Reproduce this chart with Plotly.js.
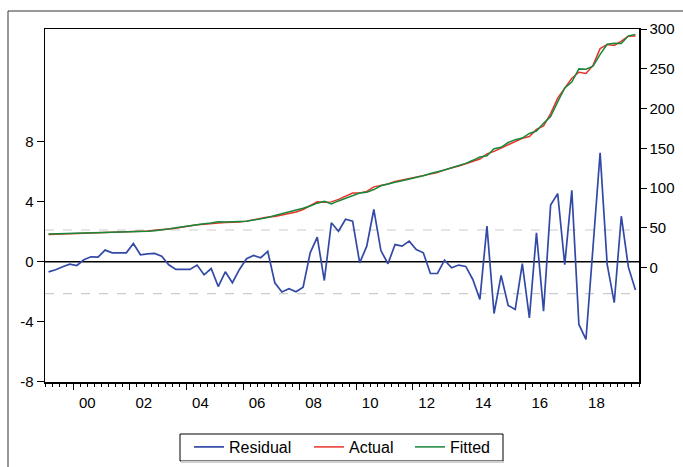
<!DOCTYPE html>
<html>
<head>
<meta charset="utf-8">
<script src="https://cdn.plot.ly/plotly-3.0.1.min.js"></script>
<style>
  html, body { margin: 0; padding: 0; background: #fff; }
  #chart { width: 683px; height: 467px; }
</style>
</head>
<body>
<div id="chart"></div>
<script>
// Quarterly periods 1999Q1 .. 2019Q4
const periods = [
  "1999Q1","1999Q2","1999Q3","1999Q4","2000Q1","2000Q2","2000Q3","2000Q4",
  "2001Q1","2001Q2","2001Q3","2001Q4","2002Q1","2002Q2","2002Q3","2002Q4",
  "2003Q1","2003Q2","2003Q3","2003Q4","2004Q1","2004Q2","2004Q3","2004Q4",
  "2005Q1","2005Q2","2005Q3","2005Q4","2006Q1","2006Q2","2006Q3","2006Q4",
  "2007Q1","2007Q2","2007Q3","2007Q4","2008Q1","2008Q2","2008Q3","2008Q4",
  "2009Q1","2009Q2","2009Q3","2009Q4","2010Q1","2010Q2","2010Q3","2010Q4",
  "2011Q1","2011Q2","2011Q3","2011Q4","2012Q1","2012Q2","2012Q3","2012Q4",
  "2013Q1","2013Q2","2013Q3","2013Q4","2014Q1","2014Q2","2014Q3","2014Q4",
  "2015Q1","2015Q2","2015Q3","2015Q4","2016Q1","2016Q2","2016Q3","2016Q4",
  "2017Q1","2017Q2","2017Q3","2017Q4","2018Q1","2018Q2","2018Q3","2018Q4",
  "2019Q1","2019Q2","2019Q3","2019Q4"
];

const residual = [
  -0.67,-0.53,-0.33,-0.16,-0.25,0.13,0.33,0.31,
  0.78,0.60,0.60,0.60,1.22,0.47,0.53,0.56,
  0.38,-0.20,-0.51,-0.51,-0.51,-0.22,-0.87,-0.45,
  -1.65,-0.67,-1.40,-0.51,0.20,0.42,0.27,0.69,
  -1.40,-2.02,-1.80,-2.00,-1.69,0.60,1.64,-1.25,
  2.60,2.04,2.84,2.71,-0.07,1.04,3.49,0.75,
  -0.13,1.15,1.04,1.38,0.82,0.60,-0.78,-0.78,
  0.11,-0.40,-0.22,-0.31,-1.18,-2.51,2.38,-3.45,
  -0.91,-2.91,-3.18,-0.13,-3.74,1.93,-3.29,3.78,
  4.55,-0.20,4.77,-4.18,-5.18,1.00,7.27,-0.18,
  -2.73,3.04,-0.36,-1.89
];

const actual = [
  41.7,41.9,42.3,42.7,42.9,43.3,43.7,44.0,
  44.4,44.6,44.8,45.1,45.6,45.7,46.3,47.0,
  47.7,48.6,49.7,51.2,52.7,53.9,54.6,55.8,
  56.2,57.0,56.8,57.5,58.6,60.2,61.6,63.8,
  64.3,66.0,68.1,70.0,73.2,78.3,82.8,82.4,
  82.8,86.0,90.4,93.9,94.0,96.0,101.7,103.9,
  105.4,108.6,110.5,112.7,114.4,116.3,117.6,119.6,
  123.1,125.3,127.9,130.8,133.9,136.7,143.2,146.3,
  150.5,154.5,157.9,162.9,165.1,174.0,178.4,193.9,
  213.3,225.9,238.4,245.9,244.4,254.5,275.6,280.9,
  279.6,285.0,291.3,291.6
];

const fitted = [
  42.3,42.5,42.7,42.9,43.1,43.1,43.3,43.6,
  43.6,44.0,44.2,44.5,44.4,45.3,45.7,46.4,
  47.3,48.8,50.3,51.8,53.3,54.1,55.4,56.2,
  57.8,57.6,58.2,58.1,58.4,59.8,61.4,63.2,
  65.7,68.0,69.9,72.0,74.8,77.7,81.2,83.6,
  80.2,84.0,87.6,91.1,94.0,95.0,98.3,103.1,
  105.6,107.4,109.5,111.3,113.6,115.7,118.4,120.4,
  122.9,125.7,128.1,131.2,135.1,139.3,140.8,149.7,
  151.5,157.5,161.1,163.1,168.9,172.0,181.6,190.1,
  208.7,226.1,233.6,250.1,249.6,253.5,268.4,281.1,
  282.4,282.0,291.7,293.4
];

const yearTickVals = [2000,2002,2004,2006,2008,2010,2012,2014,2016,2018];
const yearTickText = ["00","02","04","06","08","10","12","14","16","18"];
const leftTicks = [-8,-4,0,4,8];
const rightTicks = [0,50,100,150,200,250,300];
const residualBand = 2.12;

// place each quarter at the centre of its period
const xq = periods.map(p => {
  const y = parseInt(p.slice(0,4),10);
  const q = parseInt(p.slice(5),10);
  return y + (q - 0.5) / 4;
});

const FONT = '"Liberation Sans", Arial, Helvetica, sans-serif';

// plot area in pixels: x 45..639, y 29..382
const PX = v => (v - 45) / 594;
const PY = v => (382 - v) / 353;

const traces = [
  { x: xq, y: residual, name: 'Residual', type: 'scatter', mode: 'lines',
    line: { color: '#3349a6', width: 1.7 }, yaxis: 'y', legend: 'legend' },
  { x: xq, y: actual, name: 'Actual', type: 'scatter', mode: 'lines',
    line: { color: '#e8332a', width: 1.5 }, yaxis: 'y2', legend: 'legend2' },
  { x: xq, y: fitted, name: 'Fitted', type: 'scatter', mode: 'lines',
    line: { color: '#17873a', width: 1.5 }, yaxis: 'y2', legend: 'legend3' }
];

function legendAt(xpx) {
  return {
    orientation: 'h', x: PX(xpx), y: PY(430), xanchor: 'left', yanchor: 'top',
    borderwidth: 0, bgcolor: 'rgba(0,0,0,0)',
    font: { family: FONT, size: 16, color: '#000' },
    itemwidth: 30
  };
}

const layout = {
  width: 683, height: 467,
  margin: { l: 45, r: 44, t: 29, b: 85, pad: 0, autoexpand: false },
  paper_bgcolor: '#ffffff', plot_bgcolor: '#ffffff',
  font: { family: FONT, size: 15, color: '#000' },
  showlegend: true,
  legend: legendAt(189),
  legend2: legendAt(309),
  legend3: legendAt(410),
  xaxis: {
    range: [1999, 2020], showgrid: false, zeroline: false,
    showline: true, linecolor: '#000', linewidth: 1.5, mirror: true,
    tickmode: 'array', tickvals: yearTickVals, ticktext: yearTickText,
    ticks: 'outside', ticklen: 6, tickwidth: 1, tickcolor: '#000',
    ticklabelshift: 14, ticklabelstandoff: 0,
    tickfont: { family: FONT, size: 15, color: '#000' },
    minor: { tick0: 1999, dtick: 0.25, ticks: 'outside', ticklen: 3, tickwidth: 1, tickcolor: '#000', showgrid: false }
  },
  yaxis: {
    range: [-8.02, 15.53], showgrid: false, zeroline: false,
    showline: true, linecolor: '#000', linewidth: 1.5,
    tickmode: 'array', tickvals: leftTicks, ticktext: leftTicks.map(String),
    ticks: 'outside', ticklen: 7, tickwidth: 1, tickcolor: '#000',
    tickfont: { family: FONT, size: 15, color: '#000' }
  },
  yaxis2: {
    range: [-143.8, 300.3], overlaying: 'y', side: 'right',
    showgrid: false, zeroline: false,
    showline: true, linecolor: '#000', linewidth: 1.5,
    tickmode: 'array', tickvals: rightTicks, ticktext: rightTicks.map(String),
    ticks: 'outside', ticklen: 6, tickwidth: 1, tickcolor: '#000',
    tickfont: { family: FONT, size: 15, color: '#000' }
  },
  shapes: [
    { type: 'line', xref: 'paper', x0: 0, x1: 1, yref: 'y', y0: residualBand, y1: residualBand,
      line: { color: '#cccccc', width: 1.2, dash: 'dash' }, layer: 'below' },
    { type: 'line', xref: 'paper', x0: 0, x1: 1, yref: 'y', y0: -residualBand, y1: -residualBand,
      line: { color: '#cccccc', width: 1.2, dash: 'dash' }, layer: 'below' },
    { type: 'line', xref: 'paper', x0: 0, x1: 1, yref: 'y', y0: 0, y1: 0,
      line: { color: '#000', width: 1.5 }, layer: 'below' },
    // outer frame (extends beyond the visible page on the right and bottom)
    { type: 'rect', xref: 'paper', yref: 'paper', x0: PX(8), x1: PX(700), y0: PY(480), y1: PY(11),
      line: { color: '#333', width: 1 }, fillcolor: 'rgba(0,0,0,0)', layer: 'below' },
    // legend box
    { type: 'rect', xref: 'paper', yref: 'paper', x0: PX(180), x1: PX(503), y0: PY(461), y1: PY(434),
      line: { color: '#000', width: 1 }, fillcolor: 'rgba(0,0,0,0)', layer: 'above' },
    { type: 'line', xref: 'paper', yref: 'paper', x0: PX(181), x1: PX(504), y0: PY(462), y1: PY(462),
      line: { color: '#d0d0d0', width: 2 }, layer: 'above' }
  ]
};

Plotly.newPlot('chart', traces, layout, { displayModeBar: false, staticPlot: true });
</script>
</body>
</html>
